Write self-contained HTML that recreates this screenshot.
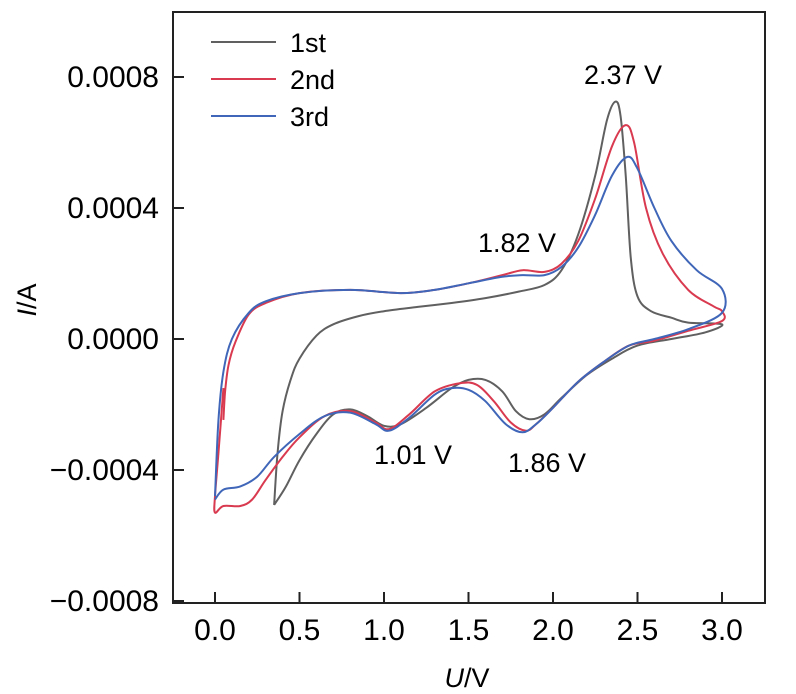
<!DOCTYPE html>
<html><head><meta charset="utf-8"><style>
body{margin:0;background:#fff;}
svg{display:block;font-family:"Liberation Sans",Arial,sans-serif;}
</style></head><body>
<svg id="chart" width="796" height="694" viewBox="0 0 796 694">
<rect x="173" y="12" width="592" height="591" fill="none" stroke="#222" stroke-width="2"/>
<g id="axes"></g>
<g id="series"></g>
<text x="36" y="300" font-size="27" text-anchor="middle" transform="rotate(-90 36 300)"><tspan font-style="italic">I</tspan>/A</text>
<text x="467" y="687" font-size="27" text-anchor="middle"><tspan font-style="italic">U</tspan>/V</text>
<text x="623" y="84" font-size="27" text-anchor="middle">2.37 V</text>
<text x="517" y="252" font-size="27" text-anchor="middle">1.82 V</text>
<text x="413" y="464" font-size="27" text-anchor="middle">1.01 V</text>
<text x="547" y="472" font-size="27" text-anchor="middle">1.86 V</text>
<g>
<line x1="211" y1="42" x2="276" y2="42" stroke="#606060" stroke-width="2"/>
<text x="290" y="52" font-size="27">1st</text>
<line x1="211" y1="79" x2="276" y2="79" stroke="#d93a4f" stroke-width="2"/>
<text x="290" y="89" font-size="27">2nd</text>
<line x1="211" y1="116" x2="276" y2="116" stroke="#3f66b8" stroke-width="2"/>
<text x="290" y="126" font-size="27">3rd</text>
</g>
</svg>
<script>
// data: potential U (V), current I (A)
const xTicks = [0.0, 0.5, 1.0, 1.5, 2.0, 2.5, 3.0];
const xTickLabels = ["0.0","0.5","1.0","1.5","2.0","2.5","3.0"];
const yTicks = [0.0008, 0.0004, 0.0, -0.0004, -0.0008];
const yTickLabels = ["0.0008","0.0004","0.0000","\u22120.0004","\u22120.0008"];
const c1U = [0.35,0.37,0.40,0.45,0.50,0.60,0.70,0.85,1.0,1.2,1.4,1.6,1.8,1.95,2.05,2.15,2.25,2.32,2.37,2.40,2.43,2.46,2.50,2.58,2.70,2.80,3.0,2.9,2.7,2.5,2.35,2.2,2.05,1.95,1.86,1.78,1.7,1.6,1.5,1.4,1.25,1.1,1.0,0.9,0.8,0.7,0.6,0.5,0.42,0.35];
const c1I = [-5.07,-3.5,-2.2,-1.2,-0.6,0.1,0.45,0.7,0.85,0.98,1.1,1.25,1.45,1.65,2.1,3.2,5.0,6.7,7.25,6.8,5.0,2.5,1.3,0.85,0.65,0.5,0.45,0.2,0.0,-0.2,-0.6,-1.1,-1.8,-2.3,-2.45,-2.2,-1.6,-1.25,-1.25,-1.5,-2.1,-2.6,-2.65,-2.35,-2.15,-2.3,-2.9,-3.7,-4.5,-5.07].map(v=>v*1e-4);
const c2U = [0.05,0.06,0.08,0.12,0.2,0.3,0.5,0.8,1.1,1.3,1.5,1.7,1.82,1.95,2.05,2.15,2.25,2.35,2.43,2.48,2.55,2.65,2.8,2.95,3.0,3.0,2.8,2.6,2.45,2.3,2.15,2.0,1.9,1.84,1.75,1.65,1.55,1.45,1.3,1.15,1.03,0.95,0.8,0.65,0.5,0.4,0.3,0.22,0.15,0.05,0.0,0.0,0.02,0.05];
const c2I = [-2.47,-1.6,-0.8,-0.1,0.75,1.1,1.4,1.5,1.4,1.5,1.7,1.95,2.1,2.05,2.3,3.0,4.3,5.9,6.53,6.0,4.0,2.6,1.5,1.0,0.85,0.55,0.25,-0.05,-0.2,-0.7,-1.3,-2.1,-2.6,-2.8,-2.55,-1.9,-1.4,-1.35,-1.6,-2.3,-2.75,-2.55,-2.2,-2.35,-3.0,-3.6,-4.3,-4.9,-5.1,-5.1,-5.3,-4.8,-3.5,-1.5].map(v=>v*1e-4);
const c3U = [0.0,0.02,0.05,0.1,0.2,0.3,0.5,0.8,1.1,1.3,1.5,1.7,1.82,1.95,2.05,2.15,2.25,2.35,2.44,2.5,2.6,2.7,2.85,3.0,3.0,2.8,2.6,2.45,2.3,2.15,2.0,1.9,1.82,1.72,1.6,1.5,1.4,1.3,1.15,1.03,0.95,0.8,0.65,0.5,0.35,0.25,0.15,0.05,0.0];
const c3I = [-4.8,-2.5,-1.0,0.0,0.8,1.15,1.4,1.5,1.4,1.5,1.7,1.9,1.95,1.95,2.2,2.8,3.8,5.0,5.56,5.2,4.0,3.0,2.1,1.53,0.8,0.3,0.0,-0.2,-0.7,-1.3,-2.1,-2.6,-2.85,-2.6,-1.9,-1.55,-1.5,-1.7,-2.4,-2.8,-2.6,-2.25,-2.35,-2.9,-3.6,-4.2,-4.5,-4.6,-4.9].map(v=>v*1e-4);

const NS="http://www.w3.org/2000/svg";
const xS = u => 215 + 169*u;
const yS = i => 339 - i*327500;
const axes=document.getElementById('axes');
xTicks.forEach((t,k)=>{
  const l=document.createElementNS(NS,'line');
  l.setAttribute('x1',xS(t));l.setAttribute('x2',xS(t));l.setAttribute('y1',603);l.setAttribute('y2',592);
  l.setAttribute('stroke','#222');l.setAttribute('stroke-width','2');
  
  
  axes.appendChild(l);
  const tx=document.createElementNS(NS,'text');
  tx.setAttribute('x',xS(t));tx.setAttribute('y',640);tx.setAttribute('font-size','30');tx.setAttribute('text-anchor','middle');
  tx.textContent=xTickLabels[k];
  
  
  axes.appendChild(tx);
});
yTicks.forEach((t,k)=>{
  const l=document.createElementNS(NS,'line');
  l.setAttribute('x1',173);l.setAttribute('x2',184);l.setAttribute('y1',yS(t));l.setAttribute('y2',yS(t));
  l.setAttribute('stroke','#222');l.setAttribute('stroke-width','2');
  
  
  axes.appendChild(l);
  const tx=document.createElementNS(NS,'text');
  tx.setAttribute('x',159);tx.setAttribute('y',yS(t)+10);tx.setAttribute('font-size','30');tx.setAttribute('text-anchor','end');
  tx.textContent=yTickLabels[k];
  
  
  axes.appendChild(tx);
});
function pathD(U,I){
  const p=U.map((u,k)=>[xS(u),yS(I[k])]);
  let d='M'+p[0][0].toFixed(1)+','+p[0][1].toFixed(1);
  for(let k=0;k<p.length-1;k++){
    const p0=p[k-1]||p[k],p1=p[k],p2=p[k+1],p3=p[k+2]||p2;
    const c1x=p1[0]+(p2[0]-p0[0])/6,c1y=p1[1]+(p2[1]-p0[1])/6;
    const c2x=p2[0]-(p3[0]-p1[0])/6,c2y=p2[1]-(p3[1]-p1[1])/6;
    d+=' C'+c1x.toFixed(1)+','+c1y.toFixed(1)+' '+c2x.toFixed(1)+','+c2y.toFixed(1)+' '+p2[0].toFixed(1)+','+p2[1].toFixed(1);
  }
  return d;
}
const ser=document.getElementById('series');
[[c1U,c1I,'#606060','cycle-1st-line'],[c2U,c2I,'#d93a4f','cycle-2nd-line'],[c3U,c3I,'#3f66b8','cycle-3rd-line']].forEach(s=>{
  const p=document.createElementNS(NS,'path');
  p.setAttribute('d',pathD(s[0],s[1]));
  p.setAttribute('fill','none');p.setAttribute('stroke',s[2]);p.setAttribute('stroke-width','2');p.setAttribute('stroke-linejoin','round');
  
  
  ser.appendChild(p);
});
</script>
</body></html>
